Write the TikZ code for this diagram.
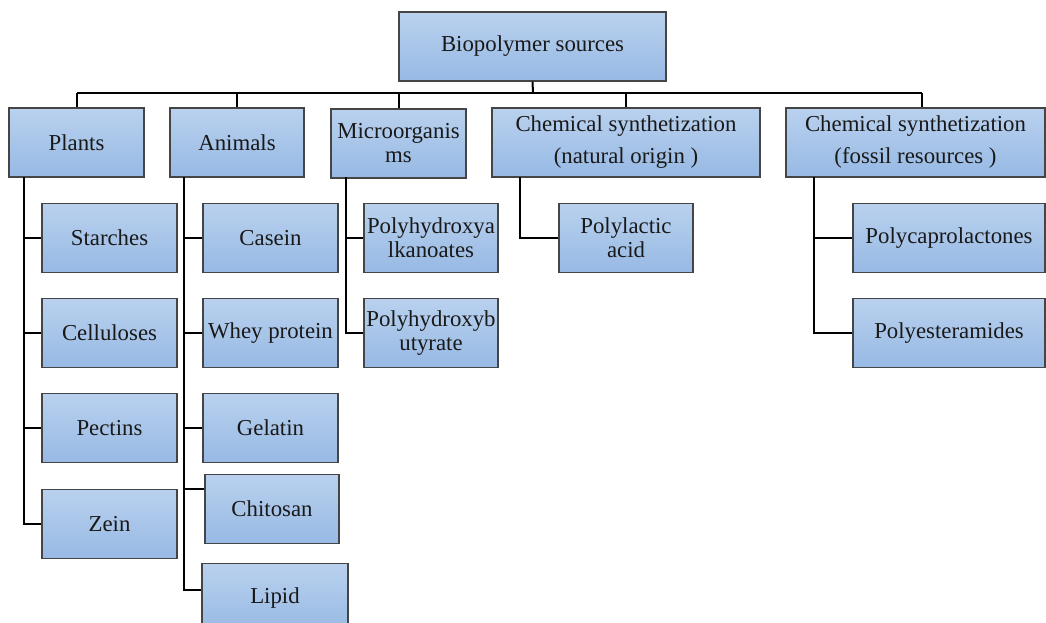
\documentclass[tikz,border=0pt]{standalone}
\usepackage{fontspec}
\setmainfont{Liberation Serif}
\begin{document}
\begin{tikzpicture}[x=1pt,y=-1pt,
  box/.style={draw=boxline, line width=1.4pt, top color=boxtop, bottom color=boxbot,
    minimum height=69pt, inner sep=1pt, align=center,
    font=\fontsize{22.8}{24}\selectfont, text=black!90},
  link/.style={draw=black, line width=2pt}]
\definecolor{boxtop}{HTML}{B9D1EE}
\definecolor{boxbot}{HTML}{97B9E4}
\definecolor{boxline}{HTML}{454545}
\useasboundingbox (0,0) rectangle (1046,623);
% top
\node[box, minimum width=267pt] (root) at (532.5,46.5) {Biopolymer sources};
% categories
\node[box, minimum width=135pt] (plants) at (76.5,142.5) {Plants};
\node[box, minimum width=134pt] (animals) at (237,142.5) {Animals};
\node[box, minimum width=135pt] (micro) at (398.5,143.5) {Microorganis\\ms};
\node[box, minimum width=268pt] (chemnat) at (626,142.5) {Chemical synthetization\\[8pt](natural origin )};
\node[box, minimum width=259pt] (fossil) at (915.5,142.5) {Chemical synthetization\\[8pt](fossil resources )};
% plants children
\node[box, minimum width=135pt] (starch) at (109.5,238) {Starches};
\node[box, minimum width=135pt] (cell) at (109.5,333) {Celluloses};
\node[box, minimum width=135pt] (pect) at (109.5,428) {Pectins};
\node[box, minimum width=135pt] (zein) at (109.5,524) {Zein};
% animals children
\node[box, minimum width=135pt] (casein) at (270.5,238) {Casein};
\node[box, minimum width=135pt] (whey) at (270.5,333) {Whey protein};
\node[box, minimum width=135pt] (gel) at (270.5,428) {Gelatin};
\node[box, minimum width=134pt] (chit) at (272,509) {Chitosan};
\node[box, minimum width=146pt] (lipid) at (275,598) {Lipid};
% micro children
\node[box, minimum width=134pt] (pha) at (431,238) {Polyhydroxya\\lkanoates};
\node[box, minimum width=134pt] (phb) at (431,333) {Polyhydroxyb\\utyrate};
% chem natural child
\node[box, minimum width=134pt] (pla) at (626,238) {Polylactic\\acid};
% fossil children
\node[box, minimum width=192pt] (pcl) at (949,238) {Polycaprolactones};
\node[box, minimum width=192pt] (pea) at (949,333) {Polyesteramides};
% bus
\coordinate (bus) at (533,93);
\coordinate (busL) at (77,93);
\coordinate (busR) at (922,93);
\draw[link] (root.south) -- (bus);
\draw[link] (busL) -- (busR);
\draw[link] (busL) -- (busL |- plants.north);
\draw[link] (animals.north |- bus) -- (animals.north);
\draw[link] (micro.north |- bus) -- (micro.north);
\draw[link] (chemnat.north |- bus) -- (chemnat.north);
\draw[link] (busR) -- (busR |- fossil.north);
% trunks
\coordinate (tp) at (24,177);
\coordinate (ta) at (184,177);
\coordinate (tm) at (346,177);
\coordinate (tc) at (520,177);
\coordinate (tf) at (814,177);
\draw[link] (tp) |- (starch.west);
\draw[link] (tp) |- (cell.west);
\draw[link] (tp) |- (pect.west);
\draw[link] (tp) |- (zein.west);
\draw[link] (ta) |- (casein.west);
\draw[link] (ta) |- (whey.west);
\draw[link] (ta) |- (gel.west);
\draw[link] (ta) |- ([yshift=20pt]chit.west);
\draw[link] (ta) |- ([yshift=8pt]lipid.west);
\draw[link] (tm) |- (pha.west);
\draw[link] (tm) |- (phb.west);
\draw[link] (tc) |- (pla.west);
\draw[link] (tf) |- (pcl.west);
\draw[link] (tf) |- (pea.west);
\end{tikzpicture}
\end{document}
